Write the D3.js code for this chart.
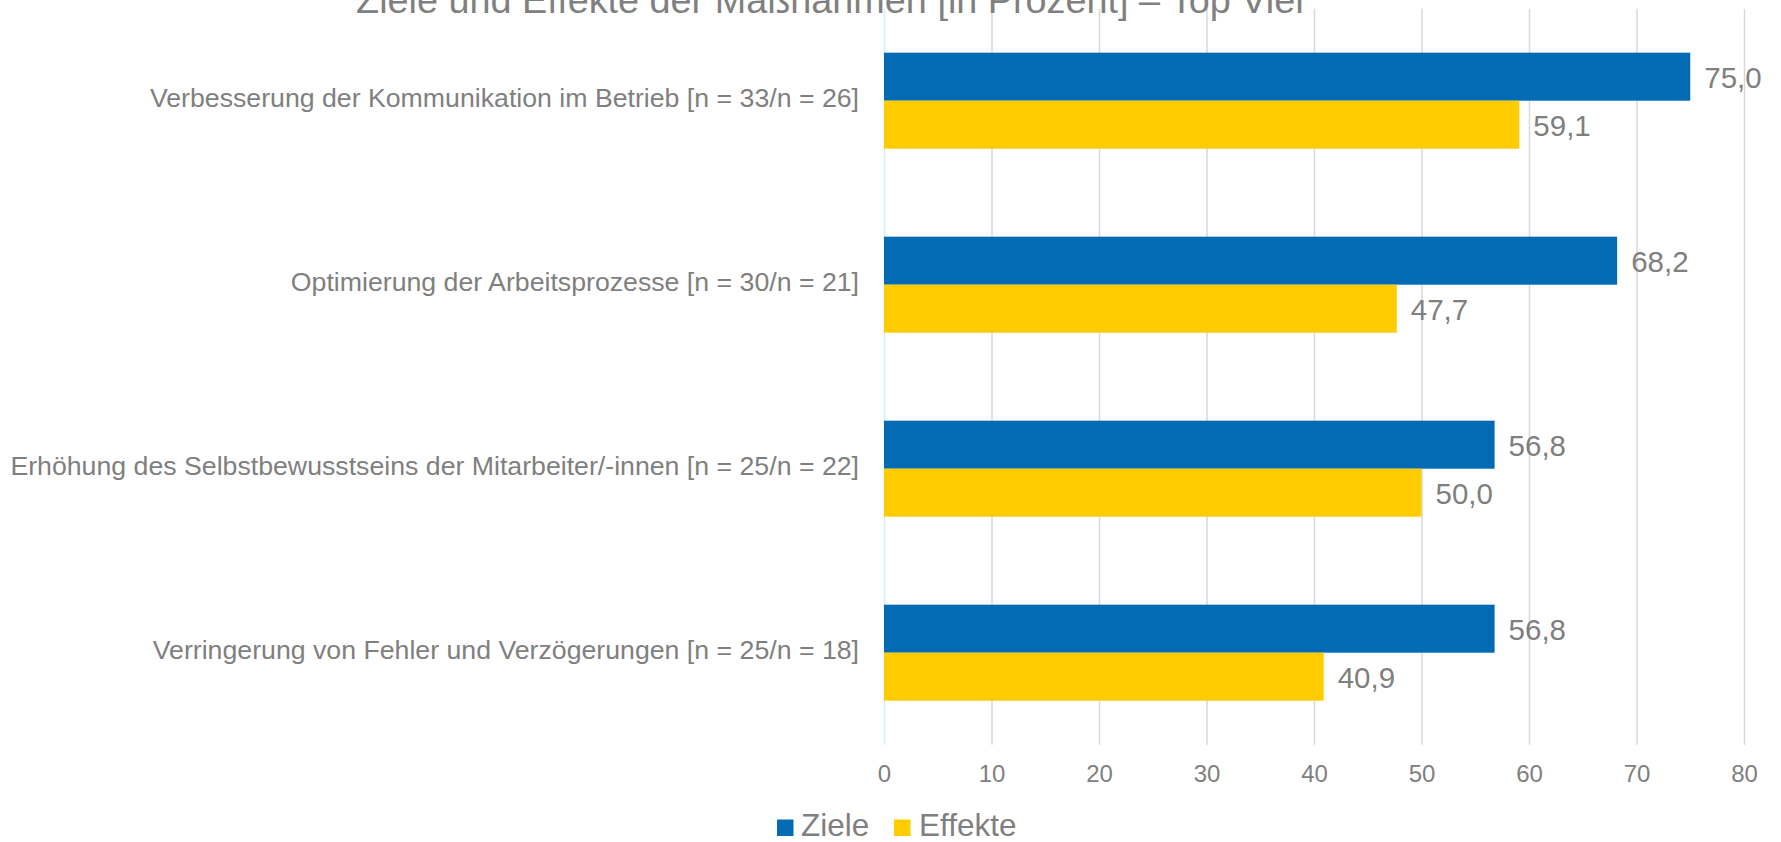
<!DOCTYPE html>
<html>
<head>
<meta charset="utf-8">
<script src="https://cdn.jsdelivr.net/npm/d3@7"></script>
<style>
  html, body { margin: 0; padding: 0; background: #ffffff; }
  svg { display: block; font-family: Arial, "Liberation Sans", sans-serif; }
</style>
</head>
<body>
<svg id="chart" width="1781" height="842"></svg>
<script>
const title = "Ziele und Effekte der Maßnahmen [in Prozent] – Top Vier";
const categories = [
  "Verbesserung der Kommunikation im Betrieb [n = 33/n = 26]",
  "Optimierung der Arbeitsprozesse [n = 30/n = 21]",
  "Erhöhung des Selbstbewusstseins der Mitarbeiter/-innen [n = 25/n = 22]",
  "Verringerung von Fehler und Verzögerungen [n = 25/n = 18]"
];
const seriesNames = ["Ziele", "Effekte"];
const zieleValues = [75.0, 68.2, 56.8, 56.8];
const effekteValues = [59.1, 47.7, 50.0, 40.9];
const tickValues = [0, 10, 20, 30, 40, 50, 60, 70, 80];
const colors = ["#036AB4", "#FFCC00"];

const seriesValues = [zieleValues, effekteValues];
const svg = d3.select("#chart");
const textColor = "#7f7f7f";

const plot = { left: 884, right: 1744, top: 8.7, bottom: 744.7 };

const x = d3.scaleLinear().domain([0, 80]).range([plot.left, plot.right]);
const y = d3.scaleBand().domain(categories).range([plot.top, plot.bottom])
  .paddingInner(0.478).paddingOuter(0.239);
const ySub = d3.scaleBand().domain(seriesNames).range([0, y.bandwidth()]).padding(0);
const color = d3.scaleOrdinal().domain(seriesNames).range(colors);

// gridlines
const grid = svg.append("g")
  .attr("transform", `translate(0,${plot.bottom})`)
  .call(d3.axisBottom(x).tickValues(tickValues).tickSize(-(plot.bottom - plot.top)).tickFormat(""));
grid.select(".domain").remove();
grid.selectAll(".tick line")
  .attr("stroke", d => d === 0 ? "#d6ecfa" : "#d9d9d9")
  .attr("stroke-width", 1.5);

// tick labels
const axis = svg.append("g")
  .attr("transform", `translate(0,${plot.bottom})`)
  .call(d3.axisBottom(x).tickValues(tickValues).tickSize(0).tickPadding(0).tickFormat(d3.format("d")));
axis.select(".domain").remove();
axis.selectAll(".tick text")
  .attr("y", 782.3 - plot.bottom)
  .attr("dy", 0)
  .attr("fill", textColor)
  .style("font-size", "24px")
  .style("font-family", "Arial, 'Liberation Sans', sans-serif");

// bars
const rows = categories.map((c, i) => ({
  cat: c,
  vals: seriesNames.map((s, j) => ({ series: s, value: seriesValues[j][i] }))
}));

const groups = svg.append("g").selectAll("g.grp")
  .data(rows).join("g")
  .attr("class", "grp")
  .attr("transform", d => `translate(0,${y(d.cat)})`);

groups.selectAll("rect")
  .data(d => d.vals).join("rect")
  .attr("x", x(0))
  .attr("y", d => ySub(d.series))
  .attr("width", d => x(d.value) - x(0))
  .attr("height", ySub.bandwidth())
  .attr("fill", d => color(d.series));

const fmt = v => d3.format(".1f")(v).replace(".", ",");
groups.selectAll("text.val")
  .data(d => d.vals).join("text")
  .attr("class", "val")
  .attr("x", d => x(d.value) + 14)
  .attr("y", d => ySub(d.series) + ySub.bandwidth() / 2)
  .attr("dy", "0.38em")
  .attr("fill", textColor)
  .style("font-size", "29.5px")
  .text(d => fmt(d.value));

// category labels
svg.append("g").selectAll("text.cat")
  .data(categories).join("text")
  .attr("class", "cat")
  .attr("x", 859)
  .attr("y", d => y(d) + y.bandwidth() / 2)
  .attr("dy", "0.25em")
  .attr("text-anchor", "end")
  .attr("fill", textColor)
  .style("font-size", "26.7px")
  .text(d => d);

// title (partially cut off at the top, as in the original)
svg.append("text")
  .attr("x", 832)
  .attr("y", 13)
  .attr("text-anchor", "middle")
  .attr("fill", "#808080")
  .style("font-size", "37.8px")
  .text(title);

// legend
const legendItems = [
  { name: "Ziele", sx: 777, tx: 801 },
  { name: "Effekte", sx: 894, tx: 919 }
];
const lg = svg.append("g").selectAll("g.leg").data(legendItems).join("g").attr("class", "leg");
lg.append("rect")
  .attr("x", d => d.sx).attr("y", 819.5)
  .attr("width", 16.5).attr("height", 16.5)
  .attr("fill", d => color(d.name));
lg.append("text")
  .attr("x", d => d.tx).attr("y", 835.5)
  .attr("fill", textColor)
  .style("font-size", "31.5px")
  .text(d => d.name);
</script>
</body>
</html>
